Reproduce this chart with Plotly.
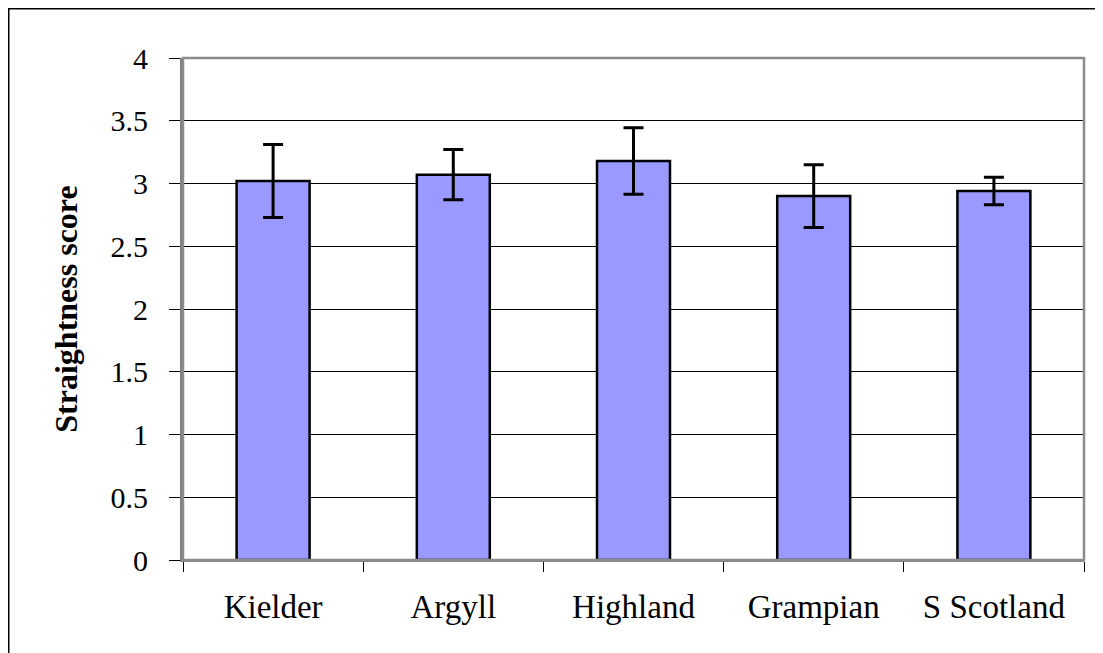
import plotly.graph_objects as go

categories = ["Kielder", "Argyll", "Highland", "Grampian", "S Scotland"]
scores = [3.02, 3.07, 3.18, 2.90, 2.94]
errors = [0.29, 0.20, 0.265, 0.25, 0.11]
y_ticks = [0, 0.5, 1, 1.5, 2, 2.5, 3, 3.5, 4]
y_tick_labels = ["0", "0.5", "1", "1.5", "2", "2.5", "3", "3.5", "4"]

W, H = 1103, 653
# plot-area edges in figure coordinates (page has an 8px body margin)
L, R, T, B = 175, 1076, 50, 552
pw, ph = R - L, B - T

fig = go.Figure()
fig.add_trace(go.Bar(
    x=categories, y=scores, width=0.405,
    marker=dict(color="#9999ff", line=dict(color="black", width=2.5)),
    error_y=dict(type="data", array=errors, visible=True, color="black",
                 thickness=3, width=10),
))

serif = "Liberation Serif, Times New Roman, serif"
fig.update_layout(
    width=W, height=H,
    margin=dict(l=L, r=W - R, t=T, b=H - B),
    paper_bgcolor="white", plot_bgcolor="white",
    showlegend=False,
    font=dict(family=serif, color="black"),
    xaxis=dict(
        type="category", tickson="boundaries", ticks="outside", ticklen=10,
        tickcolor="black", tickwidth=1, showgrid=False,
        tickfont=dict(size=33, family=serif), ticklabelstandoff=16,
        showline=True, linecolor="#808080", linewidth=2,
    ),
    yaxis=dict(
        range=[0, 4], tickvals=y_ticks, ticktext=y_tick_labels,
        ticks="outside", ticklen=11, tickcolor="black", tickwidth=1,
        showgrid=True, gridcolor="black", gridwidth=1,
        tickfont=dict(size=30, family=serif), ticklabelstandoff=15,
        showline=True, linecolor="#808080", linewidth=3,
        zeroline=False,
        title=dict(text="<b>Straightness score</b>", font=dict(size=32, family=serif),
                   standoff=24),
    ),
    shapes=[
        dict(type="rect", xref="paper", yref="paper", x0=0, x1=1, y0=0, y1=1,
             line=dict(color="#8c8c8c", width=2.5), layer="above"),
        dict(type="rect", xref="paper", yref="paper",
             x0=(0.75 - L) / pw, x1=(W + 10 - L) / pw,
             y0=-(H + 10 - B) / ph, y1=1 + (T - 0.75) / ph,
             line=dict(color="black", width=1.5), layer="above"),
    ],
)

fig.write_html("out.html")
